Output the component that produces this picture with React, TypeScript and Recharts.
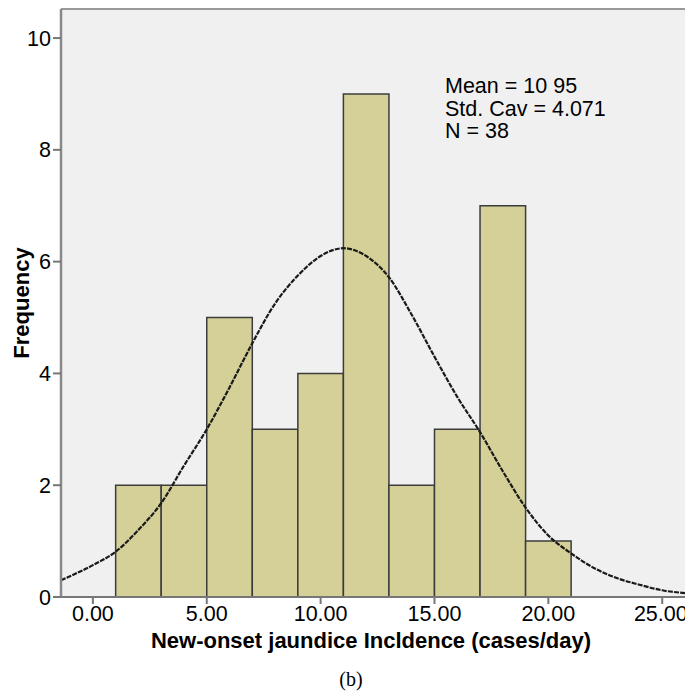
import { ComposedChart, Line, XAxis, YAxis, CartesianGrid, ReferenceArea, ReferenceLine } from 'recharts';

// histogram bins (cases/day) and frequencies
const binStart = [1, 3, 5, 7, 9, 11, 13, 15, 17, 19];
const binEnd = [3, 5, 7, 9, 11, 13, 15, 17, 19, 21];
const counts = [2, 2, 5, 3, 4, 9, 2, 3, 7, 1];

// normal curve
const curveX = [-1.4, 0, 1, 2, 3, 4, 5, 6, 7, 8, 9, 10, 11, 12, 13, 14, 15, 16, 17, 18, 19, 20, 21, 22, 23, 24, 25, 26];
const curveY = [0.3, 0.57, 0.81, 1.2, 1.68, 2.35, 3.0, 3.75, 4.54, 5.25, 5.75, 6.1, 6.24, 6.1, 5.72, 5.05, 4.3, 3.58, 2.95, 2.25, 1.6, 1.1, 0.78, 0.52, 0.34, 0.22, 0.12, 0.07];

const xTicks = [0, 5, 10, 15, 20, 25];
const yTicks = [0, 2, 4, 6, 8, 10];
const stats = ['Mean = 10 95', 'Std. Cav = 4.071', 'N = 38'];

const curve = curveX.map((x, i) => ({ x, y: curveY[i] }));
const font = 'Arial, "Liberation Sans", sans-serif';

export default function App() {
  return (
    <div style={{ position: 'absolute', left: 0, top: 0, width: 685, height: 693, background: '#fff', fontFamily: font, overflow: 'hidden' }}>
      <ComposedChart width={685} height={693} data={curve} margin={{ top: 9, right: 0, bottom: 56, left: 0 }}>
        <CartesianGrid fill="#f0f0f0" horizontal={false} vertical={false} />
        <XAxis dataKey="x" type="number" domain={[-1.4, 26]} ticks={xTicks} allowDataOverflow
          tickFormatter={(v: number) => v.toFixed(2)} height={40}
          axisLine={{ stroke: '#777', strokeWidth: 2 }} tickLine={{ stroke: '#777', strokeWidth: 2 }} tickSize={7}
          tick={{ fill: '#000', fontSize: 21.5, fontFamily: font }} />
        <YAxis type="number" domain={[0, 10.52]} ticks={yTicks} width={61} allowDataOverflow
          axisLine={{ stroke: '#888', strokeWidth: 2.5 }} tickLine={{ stroke: '#777', strokeWidth: 2 }} tickSize={8}
          tick={{ fill: '#000', fontSize: 21.5, fontFamily: font }} />
        <ReferenceLine y={10.52} stroke="#999" strokeWidth={2} />
        {counts.map((c, i) => (
          <ReferenceArea key={i} x1={binStart[i]} x2={binEnd[i]} y1={0} y2={c}
            fill="#d4d098" fillOpacity={1} stroke="#3c3c3c" strokeWidth={1.5} />
        ))}
        <Line type="monotone" dataKey="y" stroke="#1a1a1a" strokeWidth={2.2} strokeDasharray="5 1.2"
          dot={false} isAnimationActive={false} />
      </ComposedChart>
      <div style={{ position: 'absolute', left: 445, top: 75, fontSize: 21.5, lineHeight: '22.5px', color: '#000' }}>
        {stats.map((s) => <div key={s}>{s}</div>)}
      </div>
      <div style={{ position: 'absolute', left: 22, top: 303, transform: 'translate(-50%, -50%) rotate(-90deg)', fontSize: 22, fontWeight: 'bold', whiteSpace: 'nowrap' }}>
        Frequency
      </div>
      <div style={{ position: 'absolute', left: 56, width: 630, top: 628, textAlign: 'center', fontSize: 22, fontWeight: 'bold', whiteSpace: 'nowrap' }}>
        New-onset jaundice Incldence (cases/day)
      </div>
      <div style={{ position: 'absolute', left: 0, width: 702, top: 668, textAlign: 'center', fontSize: 20, fontFamily: '"Liberation Serif", "Times New Roman", serif' }}>
        (b)
      </div>
    </div>
  );
}
